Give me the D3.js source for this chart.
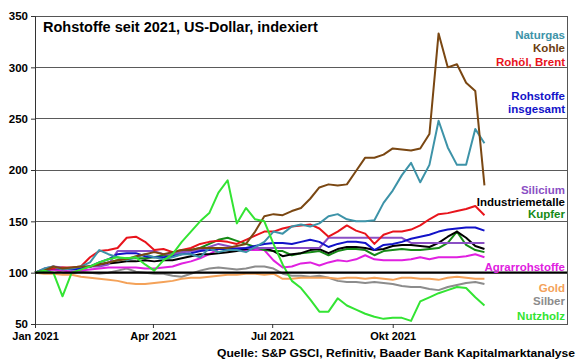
<!DOCTYPE html>
<html><head><meta charset="utf-8">
<script src="https://cdn.jsdelivr.net/npm/d3@7/dist/d3.min.js"></script>
<style>
html,body{margin:0;padding:0;background:#fff;}
svg{display:block;font-family:"Liberation Sans",Arial,sans-serif;font-weight:bold;}
</style></head>
<body>
<svg id="chart" width="580" height="359"></svg>
<script>
const dates = ["2021-01-01","2021-01-08","2021-01-15","2021-01-22","2021-01-29",
"2021-02-05","2021-02-12","2021-02-19","2021-02-26",
"2021-03-05","2021-03-12","2021-03-19","2021-03-26",
"2021-04-02","2021-04-09","2021-04-16","2021-04-23","2021-04-30",
"2021-05-07","2021-05-14","2021-05-21","2021-05-28",
"2021-06-04","2021-06-11","2021-06-18","2021-06-25",
"2021-07-02","2021-07-09","2021-07-16","2021-07-23","2021-07-30",
"2021-08-06","2021-08-13","2021-08-20","2021-08-27",
"2021-09-03","2021-09-10","2021-09-17","2021-09-24",
"2021-10-01","2021-10-08","2021-10-15","2021-10-22","2021-10-29",
"2021-11-05","2021-11-12","2021-11-19","2021-11-26",
"2021-12-03","2021-12-10"];

const silber = [100,102,103,100,99,101,100,99,100,102,104,101,100,99,99,97,96,99,102,104,105,104,103,104,106,106,104,99,97,97,96,97,95,92,91,91,90,91,90,89,87,86,86,84,83,86,88,90,91,89];
const gold = [100,99,99,98,98,96,95,94,93,92,90,89,89,90,91,92,94,95,95,96,97,98,98,99,99,98,99,94,94,95,95,95,95,94,95,95,94,95,94,93,95,95,94,94,93,95,96,95,94,94];
const agrar = [100,102,103,102,101,102,103,104,105,105,105,105,104,104,105,106,109,111,114,118,123,124,123,122,122,122,112,105,106,109,110,107,110,112,111,113,117,113,112,112,112,113,115,113,115,115,115,116,118,115];
const kupfer = [100,103,105,104,104,104,106,108,110,112,114,114,114,115,117,118,120,122,124,128,132,134,131,128,125,122,121,121,117,119,120,121,117,121,123,123,122,117,121,122,123,122,122,123,124,129,140,127,122,120];
const industriemetalle = [100,103,105,104,104,105,106,108,109,110,111,111,112,111,112,112,114,116,118,118,119,120,121,123,124,124,121,116,118,119,122,123,119,123,125,125,124,122,123,126,127,127,126,125,129,135,140,134,126,123];
const silicium = [100,104,106,105,104,105,106,106,108,121,121,121,121,121,118,118,120,121,122,125,128,126,124,124,124,124,124,124,124,124,124,124,134,134,134,134,134,134,134,134,134,129,129,129,129,129,129,129,129,129];
const rohstoffe = [100,102,104,104,103,104,106,110,113,118,119,119,116,115,115,116,118,119,121,122,123,123,123,124,126,128,129,129,128,130,132,130,125,128,130,130,129,122,127,128,130,133,135,137,140,142,143,144,144,141];
const brent = [100,103,104,105,105,106,115,121,122,124,134,135,130,122,123,120,122,124,128,130,131,130,128,132,136,140,140,143,145,146,147,143,135,140,146,141,138,128,137,140,140,142,146,152,157,158,160,162,165,156];
const naturgas = [100,104,106,103,104,106,110,122,118,115,112,115,118,115,113,115,118,118,115,124,120,122,122,120,125,130,140,138,145,147,145,148,155,157,152,150,150,151,168,180,195,207,188,205,248,222,205,205,240,226];
const kohle = [100,102,106,104,105,106,106,108,110,112,113,116,118,120,118,120,122,122,124,124,124,124,126,128,140,155,157,156,160,163,172,183,186,185,186,199,212,212,215,221,220,219,221,235,333,300,303,285,277,185];
const nutzholz = [100,102,100,77,100,103,106,110,113,115,114,115,108,102,112,118,130,140,150,158,178,190,148,163,152,150,128,108,92,85,74,62,62,75,68,64,60,57,55,56,56,53,72,76,80,83,86,85,76,68];

const yTicks = [50,100,150,200,250,300,350];
const xTickDates = ["2021-01-01","2021-04-01","2021-07-01","2021-10-01"];
const xTickLabels = ["Jan 2021","Apr 2021","Jul 2021","Okt 2021"];
const domainEnd = "2022-02-11";

const series = [
  {name:"Silber", values:silber, color:"#8c8c8c"},
  {name:"Gold", values:gold, color:"#f4a259"},
  {name:"Agrarrohstoffe", values:agrar, color:"#e020e0"},
  {name:"Kupfer", values:kupfer, color:"#168a16"},
  {name:"Industriemetalle", values:industriemetalle, color:"#000000"},
  {name:"Silicium", values:silicium, color:"#8a4fc4"},
  {name:"Rohstoffe insgesamt", values:rohstoffe, color:"#1212c8"},
  {name:"Rohöl, Brent", values:brent, color:"#e8141c"},
  {name:"Naturgas", values:naturgas, color:"#3d93a8"},
  {name:"Kohle", values:kohle, color:"#7a4712"},
  {name:"Nutzholz", values:nutzholz, color:"#33e433"}
];

const legend = [
  {lines:["Naturgas"], color:"#3d93a8", y:35},
  {lines:["Kohle"], color:"#6b3d10", y:48},
  {lines:["Rohöl, Brent"], color:"#e8141c", y:62},
  {lines:["Rohstoffe","insgesamt"], color:"#1212c8", y:96},
  {lines:["Silicium"], color:"#8a4fc4", y:190},
  {lines:["Industriemetalle"], color:"#000000", y:202},
  {lines:["Kupfer"], color:"#168a16", y:214},
  {lines:["Agrarrohstoffe"], color:"#e020e0", y:267},
  {lines:["Gold"], color:"#f4a259", y:288},
  {lines:["Silber"], color:"#8c8c8c", y:301},
  {lines:["Nutzholz"], color:"#33e433", y:316}
];

const parse = d3.timeParse("%Y-%m-%d");
const svg = d3.select("#chart");
const L = 35, R = 567, T = 16, B = 324;

const x = d3.scaleTime().domain([parse(dates[0]), parse(domainEnd)]).range([L, R]);
const y = d3.scaleLinear().domain([50, 350]).range([B, T]);

// gridlines
svg.append("g").selectAll("line").data(yTicks.filter(v => v !== 50 && v !== 100))
  .join("line")
  .attr("x1", L).attr("x2", R)
  .attr("y1", d => y(d)).attr("y2", d => y(d))
  .attr("stroke", "#5a5a5a").attr("stroke-width", 1).attr("shape-rendering","crispEdges");

// frame
svg.append("rect").attr("x", L).attr("y", y(350)).attr("width", R - L).attr("height", y(50) - y(350))
  .attr("fill", "none").attr("stroke", "#555").attr("stroke-width", 1).attr("shape-rendering","crispEdges");

// y axis
const yAxis = d3.axisLeft(y).tickValues(yTicks).tickSize(4).tickPadding(3);
const gy = svg.append("g").attr("transform", `translate(${L},0)`).call(yAxis);
gy.select(".domain").attr("stroke", "#333");
gy.selectAll(".tick line").attr("stroke", "#333");
gy.selectAll(".tick text").attr("font-size", "11.5px").attr("font-weight","bold")
  .attr("font-family", '"Liberation Sans", Arial, sans-serif').attr("fill","#000");

// x axis
const xAxis = d3.axisBottom(x).tickValues(xTickDates.map(parse))
  .tickFormat((d, i) => xTickLabels[i]).tickSize(4).tickPadding(4);
const gx = svg.append("g").attr("transform", `translate(0,${B})`).call(xAxis);
gx.select(".domain").remove();
gx.selectAll(".tick line").attr("stroke", "#333");
gx.selectAll(".tick text").attr("font-size", "11px").attr("font-weight","bold")
  .attr("font-family", '"Liberation Sans", Arial, sans-serif').attr("fill","#000");

// lines
const line = d3.line().x((d, i) => x(parse(dates[i]))).y(d => y(d));
svg.append("g").selectAll("path").data(series).join("path")
  .attr("d", d => line(d.values))
  .attr("fill", "none").attr("stroke", d => d.color)
  .attr("stroke-width", 2).attr("stroke-linejoin","round");

// baseline 100
svg.append("line").attr("x1", L).attr("x2", R).attr("y1", y(100)).attr("y2", y(100))
  .attr("stroke", "#000").attr("stroke-width", 2.2);

// title
svg.append("text").attr("x", 43).attr("y", 32).attr("font-size", "14.5px")
  .attr("fill","#000").text("Rohstoffe seit 2021, US-Dollar, indexiert");

// legend labels
const lg = svg.append("g");
legend.forEach(item => {
  item.lines.forEach((t, k) => {
    lg.append("text").attr("x", 565).attr("y", item.y + k * 13)
      .attr("dy", "0.35em").attr("text-anchor", "end")
      .attr("font-size", "11.5px").attr("fill", item.color).text(t);
  });
});

// source
svg.append("text").attr("x", 575).attr("y", 356.5).attr("text-anchor","end")
  .attr("font-size","11px").attr("fill","#000")
  .attr("textLength", 358).attr("lengthAdjust","spacingAndGlyphs")
  .text("Quelle: S&P GSCI, Refinitiv, Baader Bank Kapitalmarktanalyse");
</script>
</body></html>
